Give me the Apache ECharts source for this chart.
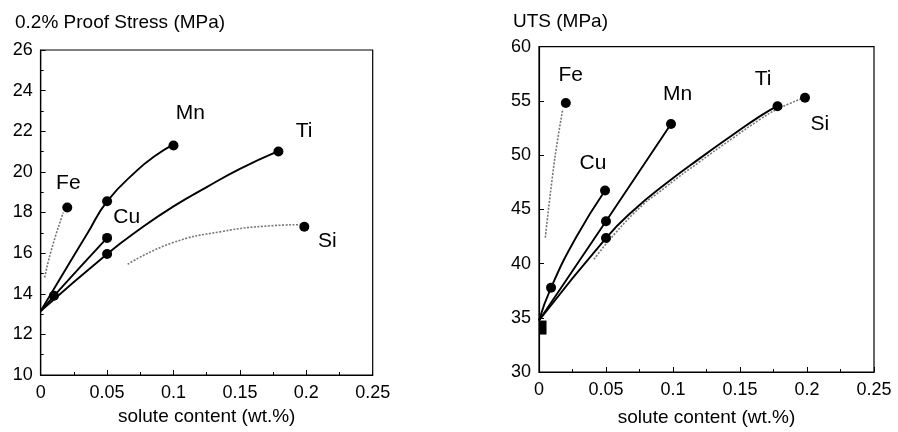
<!DOCTYPE html>
<html><head><meta charset="utf-8">
<script src="https://cdn.jsdelivr.net/npm/echarts@6/dist/echarts.min.js"></script>
<style>html,body{margin:0;padding:0;background:#fff}#c{width:898px;height:432px}</style>
</head><body><div id="c"></div>
<script>
// ---------- Left chart: 0.2% Proof Stress (MPa) ----------
const leftMnCurve = [[0,13.15],[0.022,15.55],[0.035,16.95],[0.05,18.55],[0.073,20.1],[0.086,20.78],[0.1,21.35]];
const leftCuCurve = [[0,13.15],[0.01,13.9],[0.05,16.75]];
const leftTiCurve = [[0,13.15],[0.05,15.96],[0.075,17.2],[0.1,18.3],[0.125,19.25],[0.15,20.15],[0.178,21.0]];
const leftFeCurve = [[0.003,14.8],[0.008,16.15],[0.017,18.0]];
const leftSiCurve = [[0.0655,15.45],[0.098,16.48],[0.136,17.06],[0.174,17.35],[0.195,17.4]];
const leftPoints = [[0.02,18.25],[0.05,18.55],[0.1,21.3],[0.01,13.9],[0.05,16.75],[0.05,15.96],[0.179,21.0],[0.1985,17.3]];
const leftLabels = [[0.1127,22.88,'Mn'],[0.1983,21.98,'Ti'],[0.0208,19.44,'Fe'],[0.0648,17.79,'Cu'],[0.2158,16.61,'Si']];

// ---------- Right chart: UTS (MPa) ----------
const rightCuCurve = [[0,34.75],[0.009,37.78],[0.0276,42.4],[0.0493,46.74]];
const rightMnCurve = [[0,34.75],[0.05,43.9],[0.0985,52.87]];
const rightTiCurve = [[0,34.75],[0.05,42.35],[0.07,44.85],[0.095,47.4],[0.12,49.7],[0.145,51.9],[0.165,53.6],[0.178,54.55]];
const rightFeCurve = [[0.0047,42.4],[0.0102,48.2],[0.014,51.5],[0.0177,54.2]];
const rightSiCurve = [[0.041,40.4],[0.07,44.55],[0.095,47.1],[0.12,49.4],[0.145,51.6],[0.165,53.3],[0.178,54.25],[0.198,55.3]];
const rightPoints = [[0.02,54.8],[0.009,37.78],[0.0493,46.74],[0.05,43.9],[0.0985,52.87],[0.05,42.35],[0.178,54.5],[0.1985,55.3]];
const rightOrigin = [[0.003,34.1]];
const rightLabels = [[0.0237,57.33,'Fe'],[0.1035,55.6,'Mn'],[0.1672,56.97,'Ti'],[0.0403,49.23,'Cu'],[0.2095,52.87,'Si']];

const xTitle = 'solute content (wt.%)';
const leftTitle = '0.2% Proof Stress (MPa)';
const rightTitle = 'UTS (MPa)';

const FONT = 'Liberation Sans, Arial, Helvetica, sans-serif';
const chart = echarts.init(document.getElementById('c'), null, {renderer:'canvas'});

function solid(data, gi){ return {type:'line', xAxisIndex:gi, yAxisIndex:gi, data, smooth:0.5, showSymbol:false, symbol:'none', silent:true,
  lineStyle:{color:'#000', width:1.9}, z:2}; }
function dotted(data, gi){ return {type:'line', xAxisIndex:gi, yAxisIndex:gi, data, smooth:0.5, showSymbol:false, symbol:'none', silent:true,
  lineStyle:{color:'#777', width:1.6, type:[2,1.5]}, z:2}; }
function pts(data, gi){ return {type:'scatter', xAxisIndex:gi, yAxisIndex:gi, data, symbol:'circle', symbolSize:10, silent:true, clip:false,
  itemStyle:{color:'#000', opacity:1}, z:3}; }
function labels(data, gi){ return {type:'scatter', xAxisIndex:gi, yAxisIndex:gi, data, symbolSize:1, silent:true,
  itemStyle:{color:'transparent', opacity:1}, z:4,
  label:{show:true, position:'inside', formatter:p=>p.data[2], color:'#000', opacity:1, fontSize:21, fontFamily:FONT}}; }

function xAx(gi, gap){ return {type:'value', gridIndex:gi, min:0, max:0.25, interval:0.05,
  name:xTitle, nameLocation:'middle', nameGap:gap, nameTextStyle:{color:'#000', fontSize:19, fontFamily:FONT},
  axisLine:{show:true, lineStyle:{color:'#000', width:1.2}},
  axisTick:{show:true, inside:true, length:5, lineStyle:{color:'#000'}},
  minorTick:{show:true, splitNumber:2, length:3, lineStyle:{color:'#000'}},
  axisLabel:{color:'#000', fontSize:18, fontFamily:FONT, margin:9},
  splitLine:{show:false}}; }
function yAx(gi, min, max, iv, minor){ return {type:'value', gridIndex:gi, min, max, interval:iv,
  axisLine:{show:true, lineStyle:{color:'#000', width:1.2}},
  axisTick:{show:true, inside:true, length:5, lineStyle:{color:'#000'}},
  minorTick:{show:minor, splitNumber:2, length:3, lineStyle:{color:'#000'}},
  axisLabel:{color:'#000', fontSize:18, fontFamily:FONT, margin:8},
  splitLine:{show:false}}; }

chart.setOption({
  animation:false,
  backgroundColor:'#fff',
  title:[
    {text:leftTitle, left:10, top:8, textStyle:{color:'#000', fontSize:19, fontWeight:'normal', fontFamily:FONT}},
    {text:rightTitle, left:508, top:7, textStyle:{color:'#000', fontSize:19, fontWeight:'normal', fontFamily:FONT}}
  ],
  grid:[
    {left:40.7, top:50, width:332, height:325, show:true, borderColor:'#000', borderWidth:1.2, backgroundColor:'#fff'},
    {left:539, top:46.7, width:335, height:329.3, show:true, borderColor:'#000', borderWidth:1.2, backgroundColor:'#fff'}
  ],
  xAxis:[xAx(0, 32), xAx(1, 36)],
  yAxis:[yAx(0, 10, 26, 2, true), yAx(1, 30, 60, 5, false)],
  series:[
    solid(leftMnCurve,0), solid(leftCuCurve,0), solid(leftTiCurve,0),
    dotted(leftFeCurve,0), dotted(leftSiCurve,0),
    pts(leftPoints,0), labels(leftLabels,0),
    solid(rightCuCurve,1), solid(rightMnCurve,1), solid(rightTiCurve,1),
    dotted(rightFeCurve,1), dotted(rightSiCurve,1),
    pts(rightPoints,1),
    {type:'scatter', xAxisIndex:1, yAxisIndex:1, data:rightOrigin, symbol:'rect', symbolSize:[7,14], silent:true, clip:false, itemStyle:{color:'#000', opacity:1}, z:3},
    labels(rightLabels,1)
  ]
});
</script></body></html>
